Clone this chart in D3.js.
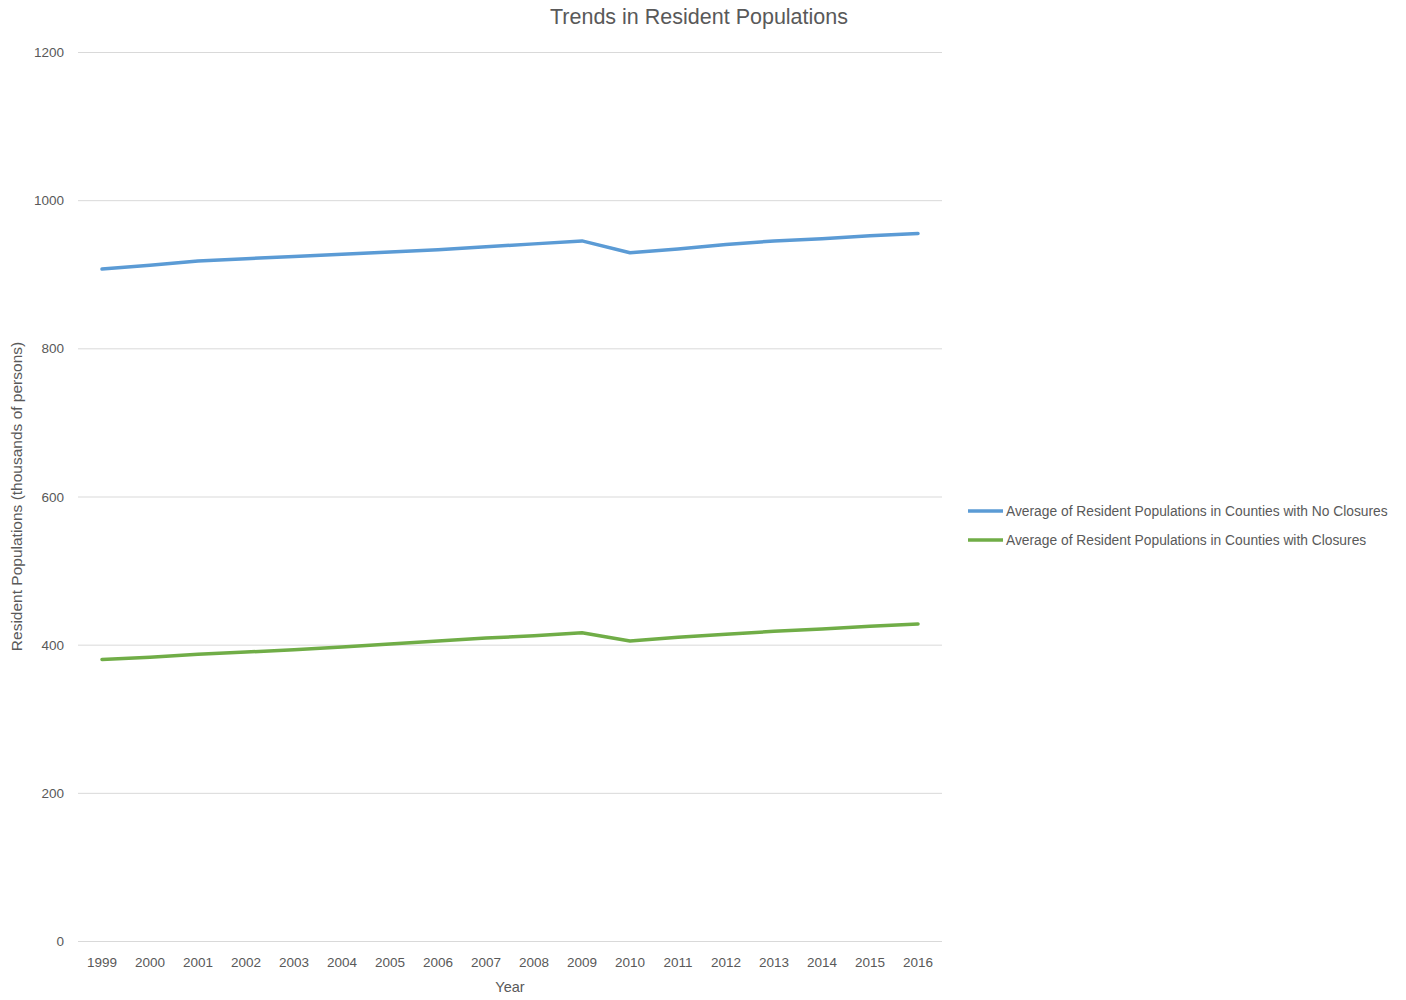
<!DOCTYPE html>
<html>
<head>
<meta charset="utf-8">
<script src="https://cdn.jsdelivr.net/npm/d3@7"></script>
<style>
  html, body { margin: 0; padding: 0; background: #fff; overflow: hidden; }
  svg { display: block; }
  text { font-family: "Liberation Sans", "DejaVu Sans", sans-serif; fill: #595959; }
</style>
</head>
<body>
<div id="chart"></div>
<script>
// data
const years = ["1999", "2000", "2001", "2002", "2003", "2004", "2005", "2006", "2007",
               "2008", "2009", "2010", "2011", "2012", "2013", "2014", "2015", "2016"];
const noClosures = [907, 912, 918, 921, 924, 927, 930, 933, 937, 941, 945, 929, 934, 940, 945, 948, 952, 955];
const withClosures = [380, 383, 387, 390, 393, 397, 401, 405, 409, 412, 416, 405, 410, 414, 418, 421, 425, 428];
const yTicks = [0, 200, 400, 600, 800, 1000, 1200];
const seriesNames = ["Average of Resident Populations in Counties with No Closures",
                     "Average of Resident Populations in Counties with Closures"];
const seriesColors = ["#5b9bd5", "#70ad47"];

const WIDTH = 1406, HEIGHT = 1000;
const margin = { top: 52, left: 78, right: 464, bottom: 59 };
const innerWidth = WIDTH - margin.left - margin.right;
const innerHeight = HEIGHT - margin.top - margin.bottom;

const svg = d3.select('#chart').append('svg')
    .attr('width', WIDTH)
    .attr('height', HEIGHT);

const g = svg.append('g')
    .attr('transform', `translate(${margin.left}, ${margin.top})`);

const x = d3.scaleBand().domain(years).range([0, innerWidth]);
const y = d3.scaleLinear().domain([0, 1200]).range([innerHeight, 0]);

// gridlines
g.selectAll('line.grid')
    .data(yTicks)
    .enter()
    .append('line')
    .attr('class', 'grid')
    .attr('x1', 0)
    .attr('x2', innerWidth)
    .attr('y1', d => y(d) + 0.5)
    .attr('y2', d => y(d) + 0.5)
    .attr('stroke', '#d9d9d9')
    .attr('stroke-width', 1);

// y tick labels
g.selectAll('text.ytick')
    .data(yTicks)
    .enter()
    .append('text')
    .attr('class', 'ytick')
    .attr('x', -14)
    .attr('y', d => y(d) + 5)
    .attr('text-anchor', 'end')
    .style('font-size', '13.5px')
    .text(d => d3.format('d')(d));

// x tick labels
g.selectAll('text.xtick')
    .data(years)
    .enter()
    .append('text')
    .attr('class', 'xtick')
    .attr('x', d => x(d) + x.bandwidth() / 2)
    .attr('y', innerHeight + 26)
    .attr('text-anchor', 'middle')
    .style('font-size', '13.5px')
    .text(d => d);

// lines
const line = d3.line()
    .x((d, i) => x(years[i]) + x.bandwidth() / 2)
    .y(d => y(d));

[noClosures, withClosures].forEach((s, i) => {
    g.append('path')
        .datum(s)
        .attr('d', line)
        .attr('fill', 'none')
        .attr('stroke', seriesColors[i])
        .attr('stroke-width', 3.5)
        .attr('stroke-linejoin', 'round')
        .attr('stroke-linecap', 'round');
});

// title
svg.append('text')
    .attr('x', 699)
    .attr('y', 24)
    .attr('text-anchor', 'middle')
    .style('font-size', '21.5px')
    .text('Trends in Resident Populations');

// axis titles
svg.append('text')
    .attr('x', margin.left + innerWidth / 2)
    .attr('y', 992)
    .attr('text-anchor', 'middle')
    .style('font-size', '14.5px')
    .text('Year');

svg.append('text')
    .attr('transform', `translate(22, ${margin.top + innerHeight / 2}) rotate(-90)`)
    .attr('text-anchor', 'middle')
    .style('font-size', '15.5px')
    .text('Resident Populations (thousands of persons)');

// legend
const legend = svg.append('g')
    .attr('transform', 'translate(968, 511)');

legend.selectAll('line')
    .data(seriesNames)
    .enter()
    .append('line')
    .attr('x1', 0)
    .attr('x2', 35)
    .attr('y1', (d, i) => i * 29)
    .attr('y2', (d, i) => i * 29)
    .attr('stroke', (d, i) => seriesColors[i])
    .attr('stroke-width', 3.5);

legend.selectAll('text')
    .data(seriesNames)
    .enter()
    .append('text')
    .attr('x', 38)
    .attr('y', (d, i) => i * 29 + 5)
    .style('font-size', '13.8px')
    .text(d => d);
</script>
</body>
</html>
